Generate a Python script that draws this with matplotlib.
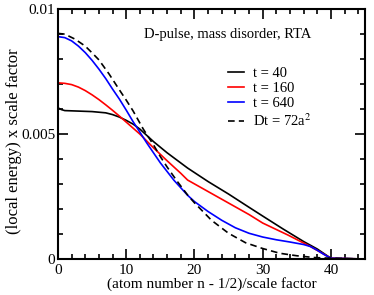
import matplotlib
matplotlib.use("Agg")
import matplotlib.pyplot as plt
from matplotlib.ticker import MultipleLocator

plt.rcParams['font.family'] = ['Liberation Serif', 'DejaVu Serif']
plt.rcParams['mathtext.fontset'] = 'stix'

# values
x_t40 = [0, 0.5, 1, 3, 5, 7, 8, 9, 10, 11, 12, 14, 16, 19, 22, 25, 28, 30, 33, 36, 38, 40, 45]
y_t40 = [0.00605, 0.00598, 0.00594, 0.00592, 0.0059, 0.00585, 0.00578, 0.00568, 0.00555,
         0.0054, 0.0052, 0.0047, 0.00425, 0.00364, 0.0031, 0.0026, 0.00207, 0.00172,
         0.0012, 0.0007, 0.0004, 0.00003, 0.0]

x_t160 = [0, 1, 2, 3, 4, 5, 6, 7, 8, 9, 10, 11, 12, 14, 16, 18, 19, 22, 25, 28, 30,
          33.7, 37, 40, 45]
y_t160 = [0.00705, 0.00703, 0.00698, 0.00688, 0.00674, 0.00657, 0.00638, 0.00617,
          0.00595, 0.00572, 0.00548, 0.00524, 0.005, 0.00445, 0.00393, 0.00343, 0.00316,
          0.0027, 0.00224, 0.00178, 0.00144, 0.00096, 0.0005, 0.00003, 0.0]

x_t640 = [0, 1, 2, 3, 4, 5, 6, 7, 8, 9, 10, 11, 12, 13, 14, 15, 16, 17, 18, 19, 20,
          22, 24, 26, 28, 30, 32, 34, 36, 37, 38, 39, 40, 45]
y_t640 = [0.0089, 0.00886, 0.00873, 0.00852, 0.00826, 0.00795, 0.0076, 0.00722, 0.0068,
          0.0064, 0.00596, 0.0055, 0.00508, 0.00465, 0.00425, 0.00385, 0.0035, 0.00315,
          0.00285, 0.00255, 0.0023, 0.0019, 0.00155, 0.00125, 0.00103, 0.00088, 0.00077,
          0.00068, 0.00058, 0.0005, 0.00035, 0.00018, 0.00003, 0.0]

x_diff = [0, 1, 2.5, 4, 5, 6, 7.5, 9, 10, 11, 12.5, 14, 15, 16, 17.5, 19, 20, 22.5, 25,
          27.5, 30, 32.5, 35, 37.5, 40, 45]
y_diff = [0.00903, 0.009, 0.0088, 0.00852, 0.00825, 0.00797, 0.0074, 0.00677, 0.00636,
          0.00593, 0.0052, 0.00457, 0.0041, 0.00368, 0.0031, 0.00256, 0.00225, 0.00155,
          0.00103, 0.00065, 0.00042, 0.00023, 0.00013, 0.00006, 0.00003, 0.0]

fig = plt.figure(figsize=(3.74, 2.95), dpi=100)
ax = fig.add_axes([0.155, 0.122, 0.821, 0.847])

ax.plot(x_t40, y_t40, color='black', lw=1.2, label='t = 40')
ax.plot(x_t160, y_t160, color='red', lw=1.2, label='t = 160')
ax.plot(x_t640, y_t640, color='blue', lw=1.2, label='t = 640')
ax.plot(x_diff, y_diff, color='black', lw=1.2, ls=(0, (4, 2.5)), label='Dt = 72a$^2$')

ax.set_xlim(0, 45)
ax.set_ylim(0, 0.01)
ax.set_xticks([0, 10, 20, 30, 40])
ax.set_yticks([0, 0.005, 0.01], labels=['0', '0.005', '0.01'])
ax.xaxis.set_minor_locator(MultipleLocator(2))
ax.yaxis.set_minor_locator(MultipleLocator(0.001))
ax.tick_params(which='both', direction='in', top=True, right=True, labelsize=11, width=1.2)
ax.tick_params(axis='y', which='major', pad=2)
ax.tick_params(which='major', length=7)
ax.tick_params(which='minor', length=3.5)
for s in ax.spines.values():
    s.set_linewidth(1.5)

ax.set_xlabel('(atom number n - 1/2)/scale factor', fontsize=11, labelpad=0)
ax.set_ylabel('(local energy) x scale factor', fontsize=12)
ax.yaxis.set_label_coords(-0.118, 0.47)

ax.text(0.28, 0.9, 'D-pulse, mass disorder, RTA', transform=ax.transAxes,
        fontsize=10.5, va='center')
ax.legend(loc='upper left', bbox_to_anchor=(0.53, 0.8), frameon=False, fontsize=10.5,
          handlelength=1.1, handletextpad=0.6, labelspacing=0.15, borderpad=0)

fig.savefig('out.png', dpi=100)
